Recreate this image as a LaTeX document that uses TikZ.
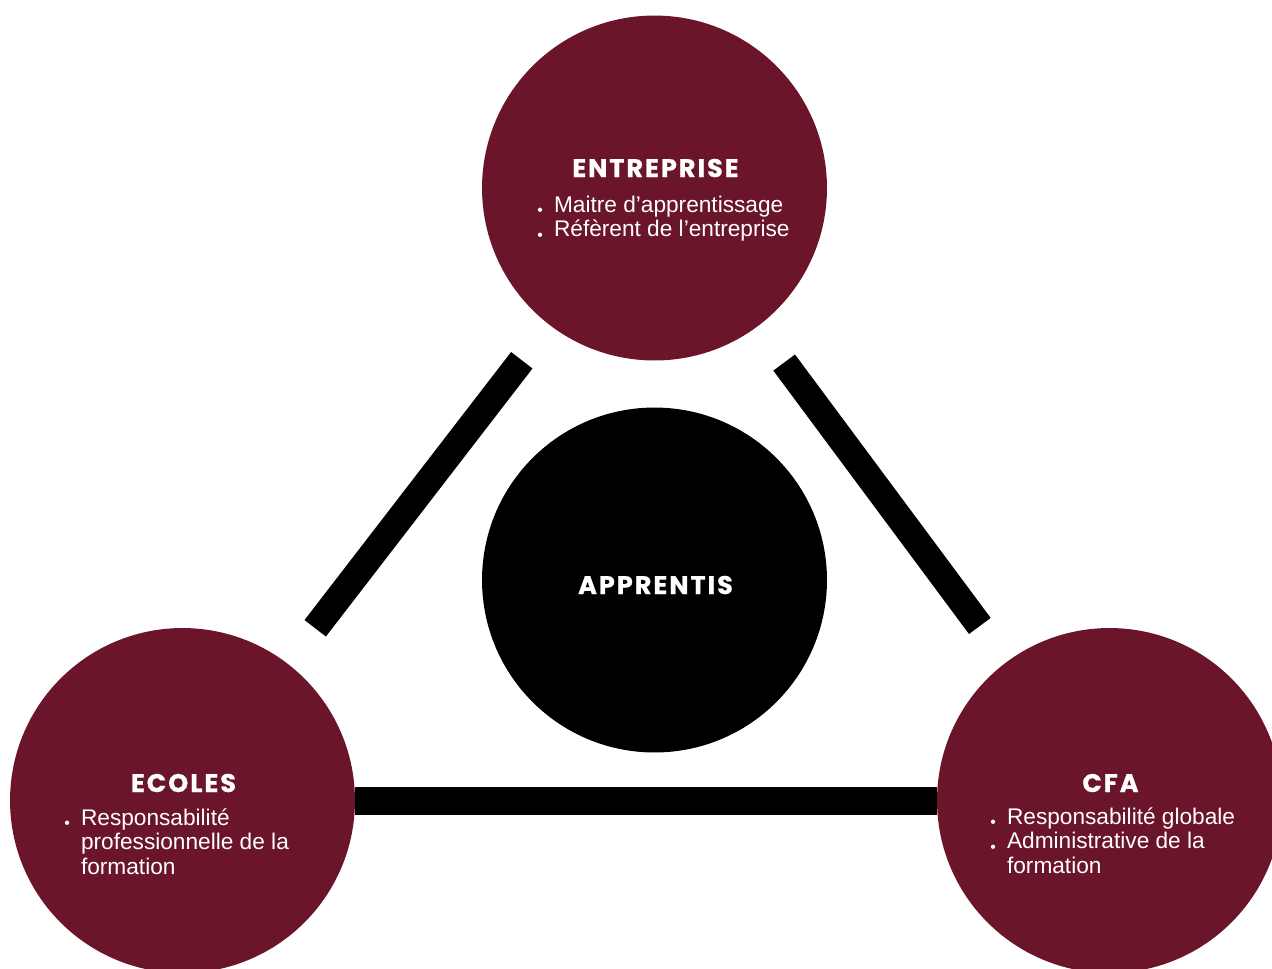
\documentclass[tikz,border=0pt]{standalone}
\usepackage{fontspec}
\setmainfont{Liberation Sans}
\newfontfamily\titrefont[LetterSpace=8, BoldFeatures={FakeBold=0.8}]{Poppins}
\definecolor{bordeaux}{RGB}{107,21,43}
\newcommand{\puce}{\makebox[9.5pt][l]{\raisebox{-2.1pt}{\fontsize{9}{9}\selectfont\textbullet}}}
\newcommand{\Rayon}{6.9cm}
\tikzset{
	cercle/.style={circle, fill=#1, minimum size=\Rayon, inner sep=0pt, outer sep=0pt},
	titre/.style={text=white, font=\titrefont\bfseries\fontsize{14.5}{17}\selectfont, inner sep=0pt, anchor=base},
	liste/.style={text=white, font=\fontsize{12.9}{14.2}\selectfont, inner sep=0pt, anchor=base west},
	barre/.style={line width=0.54cm, black},
}

\begin{document}
\begin{tikzpicture}[x=0.02cm, y=-0.02cm]
	\path[use as bounding box] (0,0) rectangle (1272,968);
	\clip (0,0) rectangle (1272,968);
	% cercles
	\node[cercle=bordeaux] (entreprise) at (654.5,188) {};
	\node[cercle=black] (apprentis) at (654.5,580) {};
	\node[cercle=bordeaux] (ecoles) at (182.5,800.5) {};
	\node[cercle=bordeaux] (cfa) at (1109.5,800.5) {};
	% liens
	\draw[barre, shorten <=0.9cm, shorten >=0.9cm] (ecoles) -- (entreprise);
	\draw[barre, shorten <=0.9cm, shorten >=0.9cm] (cfa) -- (entreprise);
	\draw[barre, line width=0.56cm] (ecoles) -- (cfa);
	% textes
	\node[titre] (t-entreprise) at (655.5,177) {ENTREPRISE};
	\node[liste] (l-entreprise) at (537,212) {\begin{tabular}[t]{@{}l@{}l@{}}
		\puce & Maitre d’apprentissage\\
		\puce & Réfèrent de l’entreprise
	\end{tabular}};
	\node[titre] (t-apprentis) at (655.5,594) {APPRENTIS};
	\node[titre] (t-ecoles) at (183.5,792) {ECOLES};
	\node[liste] (l-ecoles) at (64,825) {\begin{tabular}[t]{@{}l@{}l@{}}
		\puce & Responsabilité\\
		& professionnelle de la\\
		& formation
	\end{tabular}};
	\node[titre] (t-cfa) at (1110.5,792) {CFA};
	\node[liste] (l-cfa) at (990,824) {\begin{tabular}[t]{@{}l@{}l@{}}
		\puce & Responsabilité globale\\
		\puce & Administrative de la\\
		& formation
	\end{tabular}};
\end{tikzpicture}
\end{document}
